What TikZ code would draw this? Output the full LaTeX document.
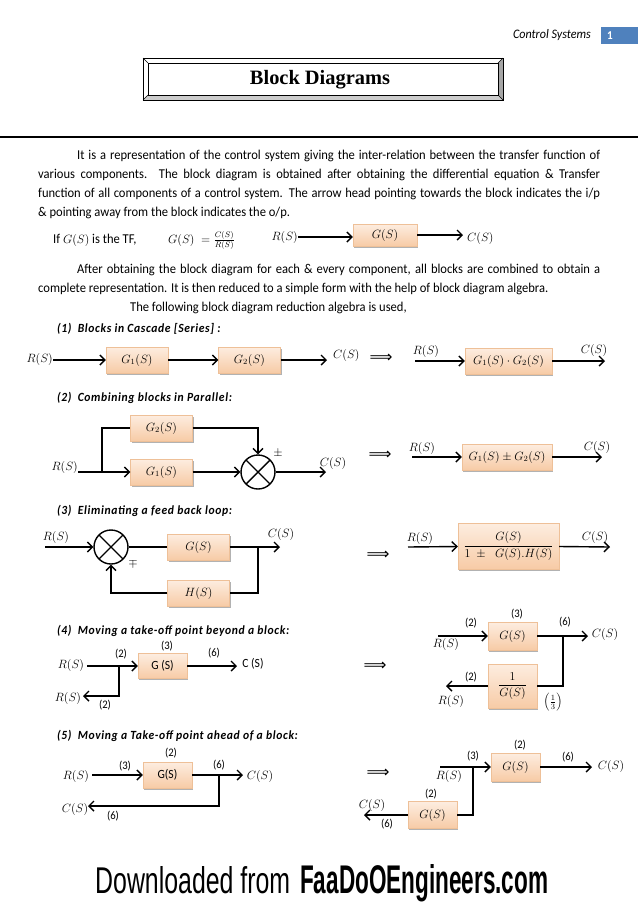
\documentclass[tikz,border=0pt]{standalone}
\usepackage{fontspec}
\setmainfont{Carlito}[FakeStretch=0.93]
\newfontfamily\dlfont{Liberation Sans}
\newfontfamily\titlefont{Liberation Serif}
\newfontfamily\symfont{DejaVu Sans}
\usetikzlibrary{arrows.meta,positioning,shadows}
\definecolor{boxtop}{RGB}{253,237,224}
\definecolor{boxbot}{RGB}{247,203,166}
\definecolor{boxedge}{RGB}{238,192,152}
\definecolor{hdrblue}{RGB}{79,129,189}
\newcommand\bodyfs{\fontsize{13.5}{15}\selectfont}
\newcommand\numfs{\fontsize{11.5}{13}\selectfont}
\newcommand\mathfs{\fontsize{11.5}{13}\selectfont}
\tikzset{
  blk/.style={draw=boxedge,top color=boxtop,bottom color=boxbot,minimum width=62pt,
    minimum height=26pt,inner sep=1pt,font=\mathfs,
    drop shadow={shadow xshift=1.2pt,shadow yshift=-1.5pt,opacity=.3,fill=black}},
  ln/.style={line width=1.4pt},
  arr/.style={line width=1.4pt,-{Straight Barb[length=5pt,width=10pt]}},
  summ/.style={circle,draw,line width=1.4pt,minimum size=34pt,inner sep=0pt,
    path picture={\draw[line width=1.4pt]
      (path picture bounding box.north west) -- (path picture bounding box.south east)
      (path picture bounding box.north east) -- (path picture bounding box.south west);}},
  sig/.style={inner sep=0pt,font=\mathfs},
  num/.style={inner sep=0pt,font=\numfs},
  para/.style={anchor=base west,inner sep=0pt,font=\bodyfs},
  hd/.style={anchor=west,inner sep=0pt,
    font=\fontsize{12.5}{14}\selectfont\bfseries\itshape\addfontfeatures{LetterSpace=5}},
  impl/.style={inner sep=0pt,font=\fontsize{16}{16}\selectfont\symfont},
}
\begin{document}
\begin{tikzpicture}[x=1pt,y=-1pt]
  \fill[white] (0,0) rectangle (638,903);
  \useasboundingbox (0,0) rectangle (638,903);
  % header
  \node[anchor=east,inner sep=0pt,font=\fontsize{13}{15}\selectfont\itshape] (hdr) at (591,35) {Control Systems};
  \fill[hdrblue] (601,27) rectangle (638,44);
  \node[text=white,inner sep=0pt,font=\fontsize{12}{12}\selectfont\bfseries] (pg) at (610,35.5) {1};
  \fill[gray!70] (503,58) -- (498,63) -- (498,95) -- (503,100) -- cycle;
  \fill[gray!40] (143,100) -- (148,95) -- (498,95) -- (503,100) -- cycle;
  \draw (143,58) rectangle (503,100);
  \draw (148,63) rectangle (498,95);
  \draw (143,58) -- (148,63) (503,58) -- (498,63) (143,100) -- (148,95) (503,100) -- (498,95);
  \node[inner sep=0pt] (title) at (320,80) {\resizebox{140pt}{!}{\titlefont\bfseries Block Diagrams}};
  \draw[line width=2pt] (0,137) -- (638,137);
  % text
  \node[para] (p1) at (77,159) {\makebox[523pt][s]{It is a representation of the control system giving the inter-relation between the transfer function of}};
  \node[para] (p2) at (38,178) {\makebox[562pt][s]{various components. The block diagram is obtained after obtaining the differential equation \& Transfer}};
  \node[para] (p3) at (38,197) {\makebox[562pt][s]{function of all components of a control system. The arrow head pointing towards the block indicates the i/p}};
  \node[para] (p4) at (38,216) {\& pointing away from the block indicates the o/p.};
  \node[para] (p5) at (53,243) {If {\mathfs$G(S)$} is the TF,};
  \node[para] (p6) at (168,243) {\mathfs$G(S)\;=\frac{C(S)}{R(S)}$};
  \node[sig,anchor=east] (r0) at (298,237) {$R(S)$};
  \node[blk,minimum width=64pt,minimum height=22pt] (g0) at (385,235) {$G(S)$};
  \node[sig,anchor=west] (c0) at (467,238) {$C(S)$};
  \draw[arr] (r0.east) -- (r0.east -| g0.west);
  \draw[arr] (g0.east) -- ([xshift=-4pt]c0.west |- g0.east);
  \node[para] (p7) at (77,273) {\makebox[523pt][s]{After obtaining the block diagram for each \& every component, all blocks are combined to obtain a}};
  \node[para] (p8) at (38,292) {complete representation. It is then reduced to a simple form with the help of block diagram algebra.};
  \node[para] (p9) at (130,311) {The following block diagram reduction algebra is used,};
  % (1)
  \node[hd] (t1) at (57,329) {(1)\hspace{0.5em}Blocks in Cascade [Series] :};
  \node[sig,anchor=east] (r1) at (53,359) {$R(S)$};
  \node[blk] (g11) at (137,360) {$G_1(S)$};
  \node[blk] (g12) at (249.5,360) {$G_2(S)$};
  \node[sig,anchor=west] (c1) at (333,355) {$C(S)$};
  \coordinate (e1) at (327,360);
  \draw[arr] (r1.east |- g11) -- (g11);
  \draw[arr] (g11) -- (g12);
  \draw[arr] (g12) -- (e1);
  \node[impl] (i1) at (381,358) {⟹};
  \node[sig] (r1b) at (426,351) {$R(S)$};
  \node[blk,minimum width=87pt] (g13) at (508.5,361) {$G_1(S)\cdot G_2(S)$};
  \node[sig] (c1b) at (594,350) {$C(S)$};
  \coordinate (s1) at (415,361); \coordinate (e1b) at (605,361);
  \draw[arr] (s1) -- (g13); \draw[arr] (g13) -- (e1b);
  % (2)
  \node[hd] (t2) at (57,398) {(2)\hspace{0.5em}Combining blocks in Parallel:};
  \node[blk] (g22) at (161.5,428) {$G_2(S)$};
  \node[blk] (g21) at (161.5,472) {$G_1(S)$};
  \node[sig,anchor=east] (r2) at (78,467) {$R(S)$};
  \node[summ] (s2) at (258,472) {};
  \node[sig] (pm2) at (278,453) {$\pm$};
  \node[sig] (c2) at (333,463) {$C(S)$};
  \coordinate (j2) at (102,472); \coordinate (e2) at (326,472);
  \draw[ln] (r2.east |- g21) -- (j2);
  \draw[arr] (j2) -- (g21);
  \draw[ln] (j2) |- (g22.west);
  \draw[arr] (g22.east) -| (s2.north);
  \draw[arr] (g21) -- (s2);
  \draw[arr] (s2) -- (e2);
  \node[impl] (i2) at (380,455) {⟹};
  \node[sig] (r2b) at (422,448) {$R(S)$};
  \node[blk,minimum width=90pt] (g23) at (507,457) {$G_1(S)\pm G_2(S)$};
  \node[sig] (c2b) at (597,447) {$C(S)$};
  \coordinate (s2b) at (412,457); \coordinate (e2b) at (602,457);
  \draw[arr] (s2b) -- (g23); \draw[arr] (g23) -- (e2b);
  % (3)
  \node[hd] (t3) at (57,511) {(3)\hspace{0.5em}Eliminating a feed back loop:};
  \node[sig] (r3) at (56,537) {$R(S)$};
  \node[summ] (s3) at (111,547) {};
  \node[sig] (mp3) at (133,563) {$\mp$};
  \node[blk] (g3) at (198.5,547) {$G(S)$};
  \node[blk] (h3) at (198.5,593) {$H(S)$};
  \node[sig] (c3) at (281,534) {$C(S)$};
  \coordinate (a3) at (45,547); \coordinate (k3) at (258,547); \coordinate (e3) at (280,547);
  \draw[arr] (a3) -- (s3);
  \draw[ln] (s3) -- (g3);
  \draw[arr] (g3) -- (e3);
  \draw[ln] (k3) |- (h3.east);
  \draw[arr] (h3.west) -| (s3.south);
  \node[impl] (i3) at (378,555) {⟹};
  \node[sig] (r3b) at (420,538) {$R(S)$};
  \node[blk,minimum width=101pt,minimum height=46pt] (g3b) at (508.5,546) {$\displaystyle\frac{G(S)}{1\;\pm\;\;G(S).H(S)}$};
  \node[sig] (c3b) at (595,537) {$C(S)$};
  \coordinate (s3b) at (408,547); \coordinate (e3b) at (610,547);
  \draw[arr] (s3b) -- (g3b); \draw[arr] (g3b) -- (e3b);
  % (4)
  \node[hd] (t4) at (57,631) {(4)\hspace{0.5em}Moving a take-off point beyond a block:};
  \node[sig] (r4) at (71,665) {$R(S)$};
  \node[blk,minimum width=49pt,minimum height=25pt,font=\fontsize{12.5}{14}\selectfont] (g4) at (162.5,666) {G (S)};
  \node[num] (n4a) at (121,654) {(2)};
  \node[num] (n4b) at (167,646) {(3)};
  \node[num] (n4c) at (214,653) {(6)};
  \node[sig,font=\fontsize{12.5}{14}\selectfont] (c4) at (253,664) {C (S)};
  \node[sig] (r4c) at (68,698) {$R(S)$};
  \node[num] (n4d) at (105,705) {(2)};
  \coordinate (a4) at (87,666); \coordinate (j4) at (119,666);
  \coordinate (e4) at (237,666); \coordinate (d4) at (83,696);
  \draw[ln] (a4) -- (j4); \draw[arr] (j4) -- (g4);
  \draw[arr] (g4) -- (e4); \draw[arr] (j4) |- (d4);
  \node[impl] (i4) at (375,666) {⟹};
  \node[blk,minimum width=49pt,minimum height=28pt] (g4b) at (512.5,636) {$G(S)$};
  \node[blk,minimum width=49pt,minimum height=44pt] (q4) at (512.5,686) {$\displaystyle\frac{1}{G(S)}$};
  \node[num] (n4e) at (471,623) {(2)};
  \node[num] (n4f) at (517,614) {(3)};
  \node[num] (n4g) at (565,622) {(6)};
  \node[sig] (c4b) at (605,634) {$C(S)$};
  \node[sig] (r4b) at (446,644) {$R(S)$};
  \node[num] (n4h) at (471,677) {(2)};
  \node[sig] (r4d) at (451,701) {$R(S)$};
  \node[sig] (f4) at (553,702) {$\left(\frac{1}{3}\right)$};
  \coordinate (a4b) at (438,636); \coordinate (k4) at (563,636);
  \coordinate (e4b) at (588,636); \coordinate (d4b) at (446,686);
  \draw[arr] (a4b) -- (g4b); \draw[arr] (g4b) -- (e4b);
  \draw[ln] (k4) |- (q4.east); \draw[arr] (q4) -- (d4b);
  % (5)
  \node[hd] (t5) at (57,736) {(5)\hspace{0.5em}Moving a Take-off point ahead of a block:};
  \node[sig] (r5) at (76,776) {$R(S)$};
  \node[blk,minimum width=49pt,font=\fontsize{12.5}{14}\selectfont] (g5) at (167.5,775) {G(S)};
  \node[num] (n5a) at (125,766) {(3)};
  \node[num] (n5b) at (171,753) {(2)};
  \node[num] (n5c) at (219,765) {(6)};
  \node[sig] (c5) at (260,776) {$C(S)$};
  \node[sig] (c5c) at (75,809) {$C(S)$};
  \node[num] (n5d) at (113,816) {(6)};
  \coordinate (a5) at (92,775); \coordinate (k5) at (219,775);
  \coordinate (e5) at (243,775); \coordinate (d5) at (88,806);
  \draw[arr] (a5) -- (g5); \draw[arr] (g5) -- (e5); \draw[arr] (k5) |- (d5);
  \node[impl] (i5) at (378,773) {⟹};
  \node[blk,minimum width=49pt,minimum height=28pt] (g5b) at (515.5,767) {$G(S)$};
  \node[blk,minimum width=49pt,minimum height=27pt] (g5c) at (432.5,815) {$G(S)$};
  \node[num] (n5e) at (473,756) {(3)};
  \node[num] (n5f) at (520,745) {(2)};
  \node[num] (n5g) at (568,757) {(6)};
  \node[sig] (c5b) at (611,766) {$C(S)$};
  \node[sig] (r5b) at (449,776) {$R(S)$};
  \node[num] (n5h) at (431,794) {(2)};
  \node[sig] (c5d) at (372,805) {$C(S)$};
  \node[num] (n5i) at (387,824) {(6)};
  \coordinate (a5b) at (440,767); \coordinate (k5b) at (473,767);
  \coordinate (e5b) at (592,767); \coordinate (d5b) at (364,815);
  \draw[arr] (a5b) -- (g5b); \draw[arr] (g5b) -- (e5b);
  \draw[ln] (k5b) |- (g5c.east); \draw[arr] (g5c) -- (d5b);
  % footer
  \node[anchor=base west,inner sep=0pt] (dl) at (95,893) {\resizebox{195pt}{27pt}{\dlfont Downloaded from}};
  \node[anchor=base west,inner sep=0pt] (fe) at (300,893) {\resizebox{248pt}{29pt}{\dlfont\bfseries FaaDoOEngineers.com}};
\end{tikzpicture}
\end{document}
